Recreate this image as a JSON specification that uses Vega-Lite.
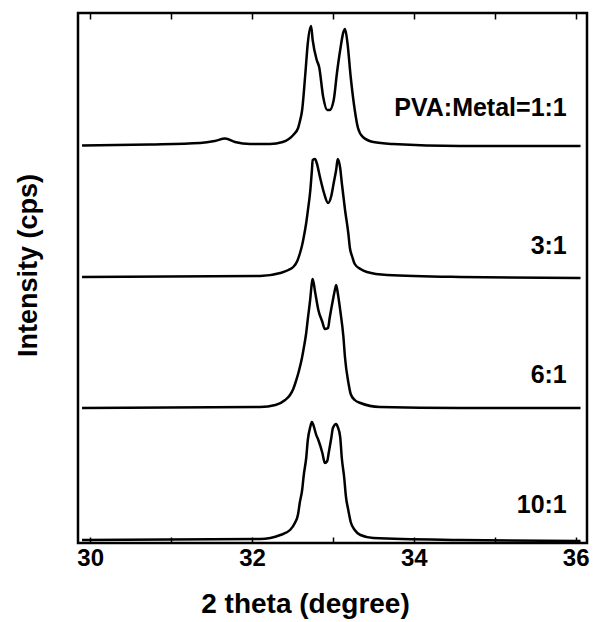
{
  "$schema": "https://vega.github.io/schema/vega-lite/v6.json",
  "width": 509,
  "height": 530,
  "autosize": {"type": "none"},
  "padding": {"left": 78, "top": 13, "right": 12, "bottom": 79},
  "background": "white",
  "config": {
    "view": {"stroke": "black", "strokeWidth": 2.5},
    "font": "Liberation Sans"
  },
  "datasets": {
    "xrd": [
      {"series": "1:1", "theta": 29.90, "intensity": 397.5},
      {"series": "1:1", "theta": 30.74, "intensity": 398.5},
      {"series": "1:1", "theta": 31.36, "intensity": 400},
      {"series": "1:1", "theta": 31.54, "intensity": 402},
      {"series": "1:1", "theta": 31.67, "intensity": 404.5},
      {"series": "1:1", "theta": 31.79, "intensity": 401},
      {"series": "1:1", "theta": 31.98, "intensity": 399},
      {"series": "1:1", "theta": 32.22, "intensity": 399},
      {"series": "1:1", "theta": 32.38, "intensity": 401},
      {"series": "1:1", "theta": 32.51, "intensity": 408},
      {"series": "1:1", "theta": 32.57, "intensity": 415},
      {"series": "1:1", "theta": 32.59, "intensity": 421},
      {"series": "1:1", "theta": 32.62, "intensity": 433},
      {"series": "1:1", "theta": 32.66, "intensity": 470},
      {"series": "1:1", "theta": 32.69, "intensity": 500},
      {"series": "1:1", "theta": 32.73, "intensity": 517},
      {"series": "1:1", "theta": 32.75, "intensity": 503},
      {"series": "1:1", "theta": 32.80, "intensity": 483},
      {"series": "1:1", "theta": 32.83, "intensity": 476},
      {"series": "1:1", "theta": 32.88, "intensity": 446},
      {"series": "1:1", "theta": 32.93, "intensity": 433},
      {"series": "1:1", "theta": 32.96, "intensity": 433},
      {"series": "1:1", "theta": 33.01, "intensity": 443},
      {"series": "1:1", "theta": 33.05, "intensity": 470},
      {"series": "1:1", "theta": 33.09, "intensity": 493},
      {"series": "1:1", "theta": 33.13, "intensity": 511},
      {"series": "1:1", "theta": 33.15, "intensity": 514},
      {"series": "1:1", "theta": 33.18, "intensity": 500},
      {"series": "1:1", "theta": 33.22, "intensity": 466},
      {"series": "1:1", "theta": 33.27, "intensity": 433},
      {"series": "1:1", "theta": 33.31, "intensity": 415},
      {"series": "1:1", "theta": 33.37, "intensity": 406},
      {"series": "1:1", "theta": 33.50, "intensity": 401},
      {"series": "1:1", "theta": 33.74, "intensity": 399},
      {"series": "1:1", "theta": 34.57, "intensity": 397},
      {"series": "1:1", "theta": 36.06, "intensity": 397},

      {"series": "3:1", "theta": 29.90, "intensity": 266},
      {"series": "3:1", "theta": 32.10, "intensity": 267},
      {"series": "3:1", "theta": 32.35, "intensity": 270},
      {"series": "3:1", "theta": 32.45, "intensity": 273},
      {"series": "3:1", "theta": 32.51, "intensity": 276},
      {"series": "3:1", "theta": 32.56, "intensity": 282},
      {"series": "3:1", "theta": 32.59, "intensity": 289},
      {"series": "3:1", "theta": 32.62, "intensity": 298},
      {"series": "3:1", "theta": 32.64, "intensity": 306},
      {"series": "3:1", "theta": 32.67, "intensity": 320},
      {"series": "3:1", "theta": 32.69, "intensity": 332},
      {"series": "3:1", "theta": 32.72, "intensity": 352},
      {"series": "3:1", "theta": 32.74, "intensity": 372},
      {"series": "3:1", "theta": 32.75, "intensity": 383},
      {"series": "3:1", "theta": 32.78, "intensity": 384},
      {"series": "3:1", "theta": 32.80, "intensity": 380},
      {"series": "3:1", "theta": 32.84, "intensity": 366},
      {"series": "3:1", "theta": 32.89, "intensity": 350},
      {"series": "3:1", "theta": 32.94, "intensity": 340},
      {"series": "3:1", "theta": 32.98, "intensity": 347},
      {"series": "3:1", "theta": 33.01, "intensity": 360},
      {"series": "3:1", "theta": 33.04, "intensity": 373},
      {"series": "3:1", "theta": 33.06, "intensity": 384},
      {"series": "3:1", "theta": 33.09, "intensity": 375},
      {"series": "3:1", "theta": 33.11, "intensity": 360},
      {"series": "3:1", "theta": 33.15, "intensity": 333},
      {"series": "3:1", "theta": 33.19, "intensity": 310},
      {"series": "3:1", "theta": 33.21, "intensity": 295},
      {"series": "3:1", "theta": 33.24, "intensity": 286},
      {"series": "3:1", "theta": 33.27, "intensity": 279},
      {"series": "3:1", "theta": 33.34, "intensity": 274},
      {"series": "3:1", "theta": 33.42, "intensity": 271},
      {"series": "3:1", "theta": 33.67, "intensity": 268},
      {"series": "3:1", "theta": 34.57, "intensity": 266},
      {"series": "3:1", "theta": 36.06, "intensity": 265},

      {"series": "6:1", "theta": 29.90, "intensity": 135},
      {"series": "6:1", "theta": 32.10, "intensity": 136},
      {"series": "6:1", "theta": 32.29, "intensity": 138},
      {"series": "6:1", "theta": 32.41, "intensity": 143},
      {"series": "6:1", "theta": 32.47, "intensity": 148},
      {"series": "6:1", "theta": 32.51, "intensity": 154},
      {"series": "6:1", "theta": 32.54, "intensity": 161},
      {"series": "6:1", "theta": 32.58, "intensity": 172},
      {"series": "6:1", "theta": 32.62, "intensity": 186},
      {"series": "6:1", "theta": 32.64, "intensity": 195},
      {"series": "6:1", "theta": 32.67, "intensity": 210},
      {"series": "6:1", "theta": 32.69, "intensity": 224},
      {"series": "6:1", "theta": 32.72, "intensity": 244},
      {"series": "6:1", "theta": 32.74, "intensity": 260},
      {"series": "6:1", "theta": 32.75, "intensity": 264},
      {"series": "6:1", "theta": 32.78, "intensity": 251},
      {"series": "6:1", "theta": 32.82, "intensity": 233},
      {"series": "6:1", "theta": 32.87, "intensity": 221},
      {"series": "6:1", "theta": 32.90, "intensity": 214},
      {"series": "6:1", "theta": 32.94, "intensity": 215},
      {"series": "6:1", "theta": 32.96, "intensity": 225},
      {"series": "6:1", "theta": 33.00, "intensity": 243},
      {"series": "6:1", "theta": 33.03, "intensity": 255},
      {"series": "6:1", "theta": 33.04, "intensity": 258},
      {"series": "6:1", "theta": 33.06, "intensity": 250},
      {"series": "6:1", "theta": 33.09, "intensity": 233},
      {"series": "6:1", "theta": 33.13, "intensity": 206},
      {"series": "6:1", "theta": 33.15, "intensity": 185},
      {"series": "6:1", "theta": 33.19, "intensity": 161},
      {"series": "6:1", "theta": 33.22, "intensity": 149},
      {"series": "6:1", "theta": 33.27, "intensity": 143},
      {"series": "6:1", "theta": 33.34, "intensity": 140},
      {"series": "6:1", "theta": 33.58, "intensity": 136},
      {"series": "6:1", "theta": 34.57, "intensity": 135},
      {"series": "6:1", "theta": 36.06, "intensity": 135},

      {"series": "10:1", "theta": 29.90, "intensity": 3},
      {"series": "10:1", "theta": 32.10, "intensity": 4},
      {"series": "10:1", "theta": 32.35, "intensity": 8},
      {"series": "10:1", "theta": 32.47, "intensity": 13},
      {"series": "10:1", "theta": 32.53, "intensity": 20},
      {"series": "10:1", "theta": 32.57, "intensity": 29},
      {"series": "10:1", "theta": 32.59, "intensity": 40},
      {"series": "10:1", "theta": 32.62, "intensity": 53},
      {"series": "10:1", "theta": 32.64, "intensity": 68},
      {"series": "10:1", "theta": 32.67, "intensity": 85},
      {"series": "10:1", "theta": 32.69, "intensity": 103},
      {"series": "10:1", "theta": 32.72, "intensity": 116},
      {"series": "10:1", "theta": 32.74, "intensity": 121},
      {"series": "10:1", "theta": 32.77, "intensity": 115},
      {"series": "10:1", "theta": 32.79, "intensity": 109},
      {"series": "10:1", "theta": 32.82, "intensity": 103},
      {"series": "10:1", "theta": 32.87, "intensity": 90},
      {"series": "10:1", "theta": 32.90, "intensity": 80},
      {"series": "10:1", "theta": 32.93, "intensity": 82},
      {"series": "10:1", "theta": 32.95, "intensity": 91},
      {"series": "10:1", "theta": 32.98, "intensity": 105},
      {"series": "10:1", "theta": 33.00, "intensity": 115},
      {"series": "10:1", "theta": 33.04, "intensity": 119},
      {"series": "10:1", "theta": 33.06, "intensity": 116},
      {"series": "10:1", "theta": 33.09, "intensity": 106},
      {"series": "10:1", "theta": 33.11, "intensity": 85},
      {"series": "10:1", "theta": 33.14, "intensity": 65},
      {"series": "10:1", "theta": 33.16, "intensity": 47},
      {"series": "10:1", "theta": 33.19, "intensity": 33},
      {"series": "10:1", "theta": 33.22, "intensity": 21},
      {"series": "10:1", "theta": 33.27, "intensity": 13},
      {"series": "10:1", "theta": 33.34, "intensity": 8},
      {"series": "10:1", "theta": 33.50, "intensity": 5},
      {"series": "10:1", "theta": 34.57, "intensity": 3},
      {"series": "10:1", "theta": 36.06, "intensity": 2}
    ],
    "labels": [
      {"label": "PVA:Metal=1:1", "theta": 35.89, "intensity": 435},
      {"label": "3:1", "theta": 35.89, "intensity": 297},
      {"label": "6:1", "theta": 35.89, "intensity": 168},
      {"label": "10:1", "theta": 35.89, "intensity": 38}
    ]
  },
  "layer": [
    {
      "data": {"name": "xrd"},
      "mark": {"type": "line", "color": "black", "strokeWidth": 2.5, "interpolate": "monotone"},
      "encoding": {
        "x": {
          "field": "theta",
          "type": "quantitative",
          "scale": {"domain": [29.85, 36.14], "nice": false, "zero": false},
          "axis": {
            "values": [30, 31, 32, 33, 34, 35, 36],
            "labelExpr": "datum.value % 2 === 0 ? datum.label : ''",
            "tickSize": -6,
            "tickWidth": 1.5,
            "tickColor": "black",
            "domain": false,
            "grid": false,
            "labelFontSize": 24,
            "labelFontWeight": "bold",
            "labelColor": "black",
            "labelPadding": 9,
            "title": "2 theta (degree)",
            "titleFontSize": 28,
            "titleFontWeight": "bold",
            "titleColor": "black",
            "titleX": 227,
            "titleY": 47,
            "titleBaseline": "top"
          }
        },
        "y": {
          "field": "intensity",
          "type": "quantitative",
          "scale": {"domain": [0, 530], "nice": false, "zero": false},
          "axis": {
            "labels": false,
            "ticks": false,
            "domain": false,
            "grid": false,
            "title": "Intensity (cps)",
            "titleFontSize": 27,
            "titleFontWeight": "bold",
            "titleColor": "black",
            "titleX": -36,
            "titleY": 252,
            "titleAngle": -90,
            "titleBaseline": "bottom"
          }
        },
        "detail": {"field": "series", "type": "nominal"}
      }
    },
    {
      "data": {"name": "labels"},
      "mark": {"type": "text", "align": "right", "baseline": "middle", "fontSize": 25, "fontWeight": "bold", "color": "black"},
      "encoding": {
        "x": {
          "field": "theta",
          "type": "quantitative",
          "axis": {
            "orient": "top",
            "values": [30, 31, 32, 33, 34, 35, 36],
            "labels": false,
            "tickSize": -6,
            "tickWidth": 1.5,
            "tickColor": "black",
            "domain": false,
            "grid": false,
            "title": null
          }
        },
        "y": {"field": "intensity", "type": "quantitative"},
        "text": {"field": "label", "type": "nominal"}
      }
    }
  ],
  "resolve": {"axis": {"x": "independent"}}
}
